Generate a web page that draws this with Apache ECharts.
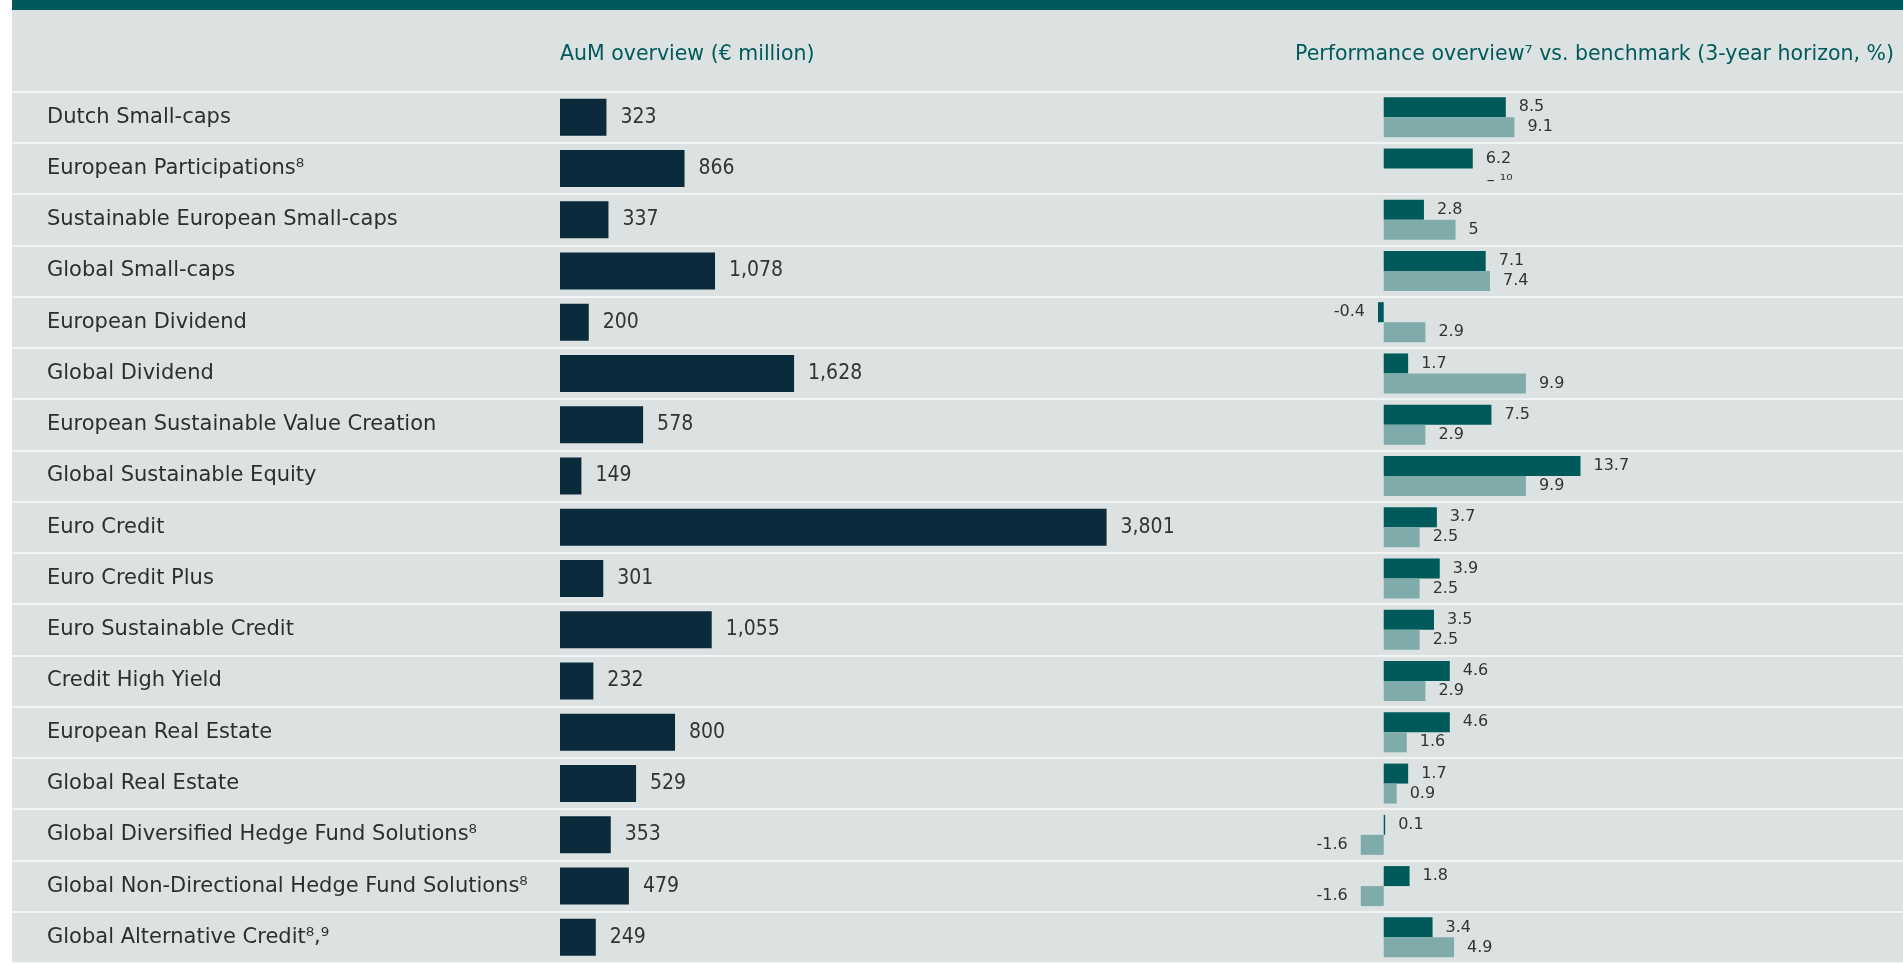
<!DOCTYPE html>
<html>
<head>
<meta charset="utf-8">
<title>AuM and performance overview</title>
<script src="https://cdn.jsdelivr.net/npm/echarts@6/dist/echarts.min.js"></script>
<style>
html, body { margin: 0; padding: 0; background: #fff; }
#main { width: 1903px; height: 963px; }
</style>
</head>
<body>
<div id="main"></div>
<script>
// fund strategies, top to bottom
var funds = [
    'Dutch Small-caps',
    'European Participations⁸',
    'Sustainable European Small-caps',
    'Global Small-caps',
    'European Dividend',
    'Global Dividend',
    'European Sustainable Value Creation',
    'Global Sustainable Equity',
    'Euro Credit',
    'Euro Credit Plus',
    'Euro Sustainable Credit',
    'Credit High Yield',
    'European Real Estate',
    'Global Real Estate',
    'Global Diversified Hedge Fund Solutions⁸',
    'Global Non-Directional Hedge Fund Solutions⁸',
    'Global Alternative Credit⁸,⁹'
];
// AuM, € million
var aum = [323, 866, 337, 1078, 200, 1628, 578, 149, 3801, 301, 1055, 232, 800, 529, 353, 479, 249];
// 3-year performance, %
var fundPerf = [8.5, 6.2, 2.8, 7.1, -0.4, 1.7, 7.5, 13.7, 3.7, 3.9, 3.5, 4.6, 4.6, 1.7, 0.1, 1.8, 3.4];
// benchmark, % (null = no benchmark, footnote 10)
var benchPerf = [9.1, null, 5, 7.4, 2.9, 9.9, 2.9, 9.9, 2.5, 2.5, 2.5, 2.9, 1.6, 0.9, -1.6, -1.6, 4.9];

var chart = echarts.init(document.getElementById('main'));

var TEAL = '#005a5b';
var rowTop = 91.5, rowsHeight = 874.5;

function perfData(arr) {
    return arr.map(function (v) {
        if (v === null) {
            return { value: 0, label: { formatter: '– ¹⁰', offset: [90, 2] } };
        }
        if (v < 0) {
            return { value: v, label: { position: 'left' } };
        }
        return v;
    });
}

var option = {
    backgroundColor: '#dce2e2',
    animation: false,
    title: [
        {
            text: 'AuM overview (€ million)',
            left: 560,
            top: 44,
            padding: 0,
            textStyle: { color: TEAL, fontSize: 20.5, fontWeight: 'normal', fontFamily: 'DejaVu Sans' }
        },
        {
            text: 'Performance overview⁷ vs. benchmark (3-year horizon, %)',
            right: 9,
            top: 44,
            padding: 0,
            textStyle: { color: TEAL, fontSize: 20.5, fontWeight: 'normal', fontFamily: 'DejaVu Sans' }
        }
    ],
    graphic: [
        { type: 'rect', z: -1, shape: { x: 0, y: 0, width: 12, height: 963 }, style: { fill: '#ffffff' } },
        { type: 'rect', z: -1, shape: { x: 12, y: 0, width: 1891, height: 10 }, style: { fill: TEAL } }
    ],
    grid: [
        // AuM bars
        { left: 560, width: 719, top: rowTop, height: rowsHeight },
        // performance bars
        { left: 1355, width: 316, top: rowTop, height: rowsHeight },
        // row separators across the whole table
        { left: 12, right: 0, top: rowTop, height: rowsHeight }
    ],
    xAxis: [
        { gridIndex: 0, type: 'value', min: 0, max: 5000, show: false },
        { gridIndex: 1, type: 'value', min: -2, max: 20, show: false },
        { gridIndex: 2, type: 'value', show: false }
    ],
    yAxis: [
        {
            gridIndex: 0,
            type: 'category',
            data: funds,
            inverse: true,
            axisLine: { show: false },
            axisTick: { show: false },
            splitLine: { show: false },
            axisLabel: {
                align: 'left',
                margin: 513,
                padding: [7, 0, 0, 0],
                color: '#2e2e2e',
                fontSize: 21,
                fontFamily: 'DejaVu Sans'
            }
        },
        {
            gridIndex: 1,
            type: 'category',
            data: funds,
            inverse: true,
            show: false
        },
        {
            gridIndex: 2,
            type: 'category',
            data: funds,
            inverse: true,
            axisLine: { show: false },
            axisTick: { show: false },
            axisLabel: { show: false },
            splitLine: { show: true, lineStyle: { color: '#f3f5f5', width: 2 } }
        }
    ],
    series: [
        {
            name: 'AuM',
            type: 'bar',
            xAxisIndex: 0,
            yAxisIndex: 0,
            data: aum,
            barWidth: 37,
            itemStyle: { color: '#0b2a3b' },
            label: {
                show: true,
                position: 'right',
                distance: 14,
                padding: [5, 0, 0, 0],
                color: '#333',
                fontSize: 21,
                fontFamily: "'Liberation Sans Narrow', 'DejaVu Sans Condensed', sans-serif",
                formatter: function (p) {
                    return p.value.toLocaleString('en-US');
                }
            }
        },
        {
            name: 'Fund',
            type: 'bar',
            xAxisIndex: 1,
            yAxisIndex: 1,
            data: perfData(fundPerf),
            barWidth: 20,
            barGap: '0%',
            itemStyle: { color: '#005a5a' },
            label: {
                show: true,
                position: 'right',
                distance: 13,
                color: '#333',
                fontSize: 16,
                fontFamily: 'DejaVu Sans'
            }
        },
        {
            name: 'Benchmark',
            type: 'bar',
            xAxisIndex: 1,
            yAxisIndex: 1,
            data: perfData(benchPerf),
            barWidth: 20,
            barGap: '0%',
            itemStyle: { color: '#80abab' },
            label: {
                show: true,
                position: 'right',
                distance: 13,
                color: '#333',
                fontSize: 16,
                fontFamily: 'DejaVu Sans'
            }
        }
    ]
};

chart.setOption(option);
</script>
</body>
</html>
